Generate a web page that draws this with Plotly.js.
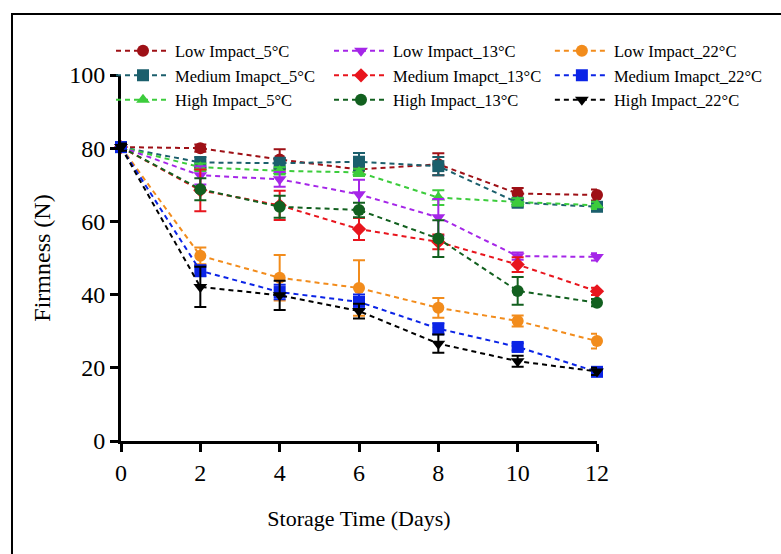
<!DOCTYPE html>
<html><head><meta charset="utf-8">
<script src="https://cdn.plot.ly/plotly-3.0.1.min.js"></script>
<style>html,body{margin:0;padding:0;background:#fff;}#chart{width:781px;height:554px;}</style>
</head><body><div id="chart"></div>
<script>
const days = [0, 2, 4, 6, 8, 10, 12];
const xTicks = [0, 2, 4, 6, 8, 10, 12];
const yTicks = [0, 20, 40, 60, 80, 100];

const seriesNames = [
  "Low Impact_5°C", "Medium Imapct_5°C", "High Impact_5°C",
  "Low Impact_13°C", "Medium Imapct_13°C", "High Impact_13°C",
  "Low Impact_22°C", "Medium Imapct_22°C", "High Impact_22°C"
];

const low5   = [80.3, 80.0, 76.9, 74.2, 75.6, 67.6, 67.2];
const med5   = [80.3, 76.1, 75.9, 76.3, 75.1, 65.1, 64.0];
const high5  = [80.3, 74.8, 73.8, 73.4, 66.5, 65.3, 64.4];
const low13  = [80.3, 72.6, 71.5, 67.4, 61.1, 50.5, 50.3];
const med13  = [80.3, 68.5, 64.4, 57.9, 54.4, 48.2, 40.9];
const high13 = [80.3, 68.8, 64.0, 63.1, 55.3, 41.0, 37.8];
const low22  = [80.3, 50.6, 44.6, 41.8, 36.4, 32.8, 27.3];
const med22  = [80.3, 46.5, 40.7, 38.0, 30.7, 25.7, 18.9];
const high22 = [80.3, 42.1, 39.8, 35.5, 26.6, 21.8, 19.0];

const errLow5   = [1.0, 1.0, 2.8, 1.5, 3.0, 1.5, 1.5];
const errMed5   = [1.0, 1.5, 1.5, 2.4, 2.5, 1.0, 1.0];
const errHigh5  = [1.0, 1.0, 1.0, 1.0, 2.0, 1.0, 1.0];
const errLow13  = [1.0, 2.5, 2.0, 4.0, 5.0, 1.0, 1.0];
const errMed13  = [1.0, 5.7, 4.0, 3.0, 2.0, 2.0, 1.0];
const errHigh13 = [1.0, 3.0, 3.0, 2.0, 5.0, 3.8, 1.0];
const errLow22  = [1.0, 2.3, 6.2, 7.6, 2.7, 1.5, 2.0];
const errMed22  = [1.0, 1.5, 2.0, 2.0, 1.5, 1.0, 1.0];
const errHigh22 = [1.0, 5.5, 4.0, 2.0, 2.5, 1.5, 1.0];

const values = [low5, med5, high5, low13, med13, high13, low22, med22, high22];
const errors = [errLow5, errMed5, errHigh5, errLow13, errMed13, errHigh13, errLow22, errMed22, errHigh22];
const colors = ["#9e1016", "#1b5f6c", "#3ccc3c", "#a526e8", "#e8151d", "#12601f", "#f28c1c", "#0b24e6", "#000000"];
const symbols = ["circle", "square", "triangle-up", "triangle-down", "diamond", "circle", "circle", "square", "triangle-down"];
const sizes = [12, 12, 12, 12, 11, 12, 12, 12, 12];
const legendIds = ["legend", "legend", "legend", "legend2", "legend2", "legend2", "legend3", "legend3", "legend3"];

const traces = values.map((v, i) => ({
  type: "scatter",
  mode: "lines+markers",
  name: seriesNames[i],
  x: days,
  y: v,
  legend: legendIds[i],
  cliponaxis: false,
  line: {color: colors[i], width: 2, dash: "5px,4px"},
  marker: {color: colors[i], symbol: symbols[i], size: sizes[i], line: {width: 0}},
  error_y: {type: "data", array: errors[i], visible: true, color: colors[i], thickness: 2, width: 6}
}));

const font = "Liberation Serif, Times New Roman, Times, serif";
const legendBase = {
  orientation: "v", bgcolor: "rgba(0,0,0,0)", borderwidth: 0,
  font: {family: font, size: 16.5, color: "#000"},
  xanchor: "left", yanchor: "top", itemwidth: 54, tracegroupgap: 0
};

const layout = {
  width: 781, height: 554,
  paper_bgcolor: "#fff", plot_bgcolor: "#fff",
  font: {family: font, color: "#000"},
  margin: {l: 121, r: 184, t: 75, b: 113},
  showlegend: true,
  legend: Object.assign({}, legendBase, {x: -0.021, y: 1.113}),
  legend2: Object.assign({}, legendBase, {x: 0.437, y: 1.113}),
  legend3: Object.assign({}, legendBase, {x: 0.901, y: 1.113}),
  xaxis: {
    range: [0, 12], tickvals: xTicks, ticktext: xTicks.map(String),
    showgrid: false, zeroline: false, showline: true, linecolor: "#000", linewidth: 3,
    ticks: "outside", ticklen: 8, tickwidth: 3, tickcolor: "#000",
    tickfont: {family: font, size: 24, color: "#000"},
    title: {text: "Storage Time (Days)", font: {family: font, size: 22, color: "#000"}, standoff: 26}
  },
  yaxis: {
    range: [0, 100], tickvals: yTicks, ticktext: yTicks.map(String),
    showgrid: false, zeroline: false, showline: true, linecolor: "#000", linewidth: 3,
    ticks: "outside", ticklen: 8, tickwidth: 3, tickcolor: "#000",
    tickfont: {family: font, size: 24, color: "#000"},
    title: {text: "Firmness (N)", font: {family: font, size: 24, color: "#000"}, standoff: 12}
  },
  shapes: [{
    type: "rect", xref: "paper", yref: "paper",
    x0: -0.229, x1: 1.6, y0: -0.6, y1: 1.167,
    line: {color: "#000", width: 2}, fillcolor: "rgba(0,0,0,0)", layer: "below"
  }]
};

Plotly.newPlot("chart", traces, layout, {displayModeBar: false, staticPlot: true});
</script></body></html>
